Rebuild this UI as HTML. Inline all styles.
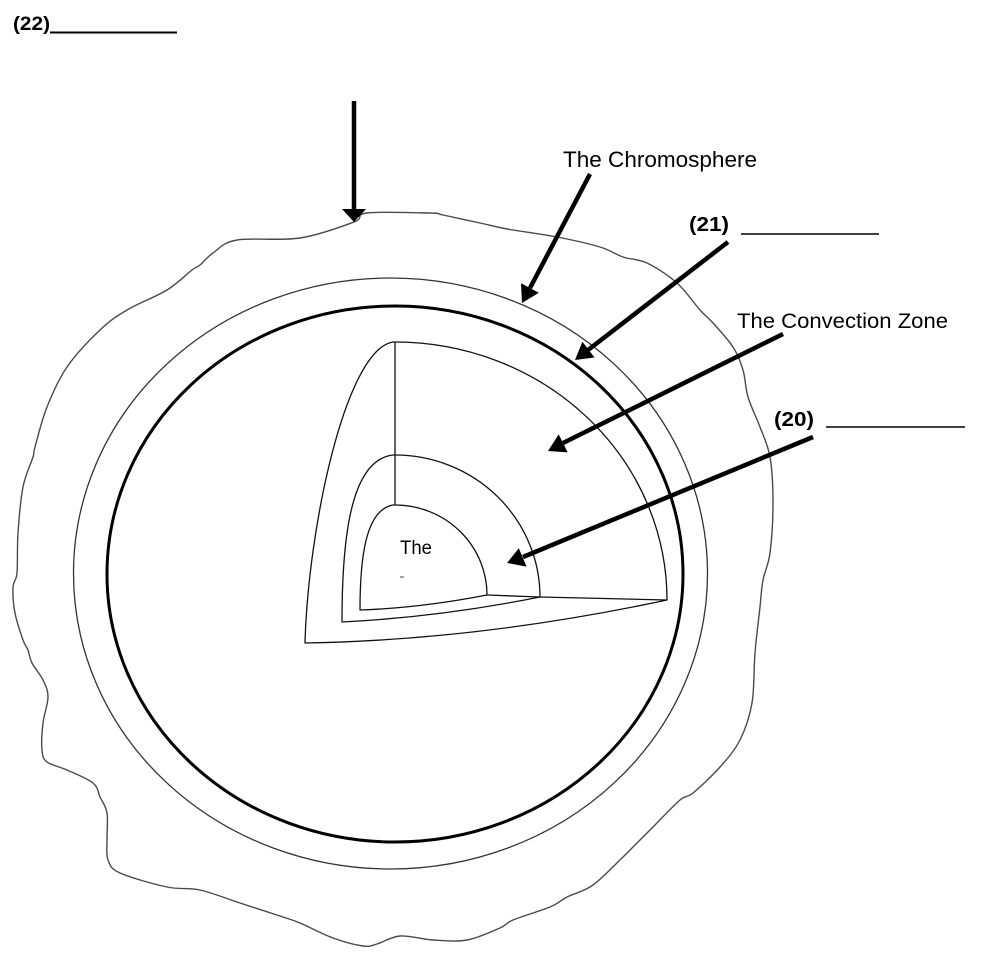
<!DOCTYPE html>
<html>
<head>
<meta charset="utf-8">
<style>
  html, body { margin:0; padding:0; background:#fff; }
  body { width:981px; height:958px; overflow:hidden; }
  svg { display:block; }
  text { font-family: "Liberation Sans", Arial, sans-serif; fill:#000; }
</style>
</head>
<body>
<svg width="981" height="958" viewBox="0 0 981 958" xmlns="http://www.w3.org/2000/svg">
  <rect x="0" y="0" width="981" height="958" fill="#fff"/>

  <!-- wavy outer outline (corona) -->
  <polyline id="outline" fill="none" stroke="#4a4a4a" stroke-width="1.4" stroke-linejoin="round" stroke-linecap="round"
    points="354,222 367,213 430,213 443,215 480,223 507,229 557,237 600,247 623,257 647,263 677,283 700,310 713,323 733,347 743,370 748,397 760,427 770,457 773,503 770,553 763,580 760,607 755,653 752,703 740,740 720,767 693,793 680,800 653,827 633,847 623,857 593,885 567,897 550,907 513,920 500,928 467,940 433,940 400,936 377,944 363,946 333,938 300,923 283,917 240,903 200,890 167,887 120,873 108,860 107,840 107,813 100,797 93,783 67,770 47,762 42,750 43,723 48,697 43,680 32,663 28,650 23,640 15,613 13,587 17,573 18,533 23,487 33,457 35,447 47,407 67,367 100,330 127,310 167,290 192,270 200,265 213,253 237,240 300,238 354,222"/>
  <path id="outlineSmooth" fill="none" stroke="#4a4a4a" stroke-width="1.4" stroke-linejoin="round" d=""/>

  <!-- thin outer ellipse (chromosphere) -->
  <ellipse cx="390.5" cy="573.5" rx="317" ry="295.5" fill="none" stroke="#333" stroke-width="1.3"/>
  <!-- thick ellipse (photosphere) -->
  <ellipse cx="395" cy="574" rx="288" ry="268" fill="none" stroke="#000" stroke-width="3"/>

  <!-- inner wedges -->
  <g fill="none" stroke="#111" stroke-width="1.3" stroke-linejoin="round">
    <path d="M 305,643 C 308,530 345,350 393,342 L 395,342 A 272 258 0 0 1 667,600 Q 480,640 305,643 Z"/>
    <path d="M 342,622 C 342,540 350,460 393,455 L 395,455 A 145 142 0 0 1 540,597 Q 440,617 342,622 Z"/>
    <path d="M 360,610 C 360,560 365,510 393,505 L 395,505 A 92 90 0 0 1 487,595 Q 420,608 360,610 Z"/>
    <line x1="395" y1="342" x2="395" y2="505"/>
    <polyline points="487,595 540,597 667,600"/>
  </g>

  <!-- core label -->
  <text x="400" y="554" font-size="19" textLength="32" lengthAdjust="spacingAndGlyphs">The</text>
  <line x1="400" y1="577" x2="404" y2="577" stroke="#444" stroke-width="1"/>

  <!-- arrows -->
  <g stroke="#000" stroke-width="4.5" stroke-linecap="butt">
    <line x1="354" y1="101" x2="354" y2="212"/>
    <line x1="590" y1="174" x2="530" y2="288"/>
    <line x1="728" y1="242" x2="588" y2="350"/>
    <line x1="783" y1="334" x2="563" y2="443"/>
    <line x1="813" y1="437" x2="523" y2="557"/>
  </g>
  <g fill="#000">
    <polygon points="354,222 342,209 366,209"/>
    <polygon points="522,303 538.8,292.7 521.0,283.3"/>
    <polygon points="575,360 594.6,357.5 582.4,341.7"/>
    <polygon points="548,451 567.7,452.4 558.7,434.4"/>
    <polygon points="507,563 526.6,566.6 518.8,548.2"/>
  </g>

  <!-- labels -->
  <text x="13" y="30" font-size="19" font-weight="bold" textLength="37" lengthAdjust="spacingAndGlyphs">(22)</text>
  <line x1="50" y1="32.5" x2="177" y2="32.5" stroke="#000" stroke-width="2"/>

  <text x="563" y="167" font-size="22.5" textLength="194" lengthAdjust="spacingAndGlyphs">The Chromosphere</text>

  <text x="689" y="231" font-size="20" font-weight="bold" textLength="40" lengthAdjust="spacingAndGlyphs">(21)</text>
  <line x1="741" y1="234" x2="879" y2="234" stroke="#000" stroke-width="1.5"/>

  <text x="737" y="328" font-size="21.5" textLength="211" lengthAdjust="spacingAndGlyphs">The Convection Zone</text>

  <text x="774" y="426" font-size="20" font-weight="bold" textLength="40" lengthAdjust="spacingAndGlyphs">(20)</text>
  <line x1="826" y1="427" x2="965" y2="427" stroke="#000" stroke-width="1.5"/>
</svg>
<script>
(function(){
  try {
    var pl = document.getElementById('outline');
    var raw = pl.getAttribute('points').trim().split(/\s+/).map(function(s){var a=s.split(',');return [parseFloat(a[0]),parseFloat(a[1])];});
    raw.pop(); // closed loop: drop duplicate last point
    var n = raw.length, d = 'M' + raw[0][0] + ',' + raw[0][1];
    for (var i=0;i<n;i++){
      var p0=raw[(i-1+n)%n], p1=raw[i], p2=raw[(i+1)%n], p3=raw[(i+2)%n];
      var c1x=p1[0]+(p2[0]-p0[0])/6, c1y=p1[1]+(p2[1]-p0[1])/6;
      var c2x=p2[0]-(p3[0]-p1[0])/6, c2y=p2[1]-(p3[1]-p1[1])/6;
      d += ' C'+c1x.toFixed(1)+','+c1y.toFixed(1)+' '+c2x.toFixed(1)+','+c2y.toFixed(1)+' '+p2[0]+','+p2[1];
    }
    d += ' Z';
    var sm = document.getElementById('outlineSmooth');
    sm.setAttribute('d', d);
    pl.setAttribute('stroke','none');
  } catch(e) {}
})();
</script>
</body>
</html>
